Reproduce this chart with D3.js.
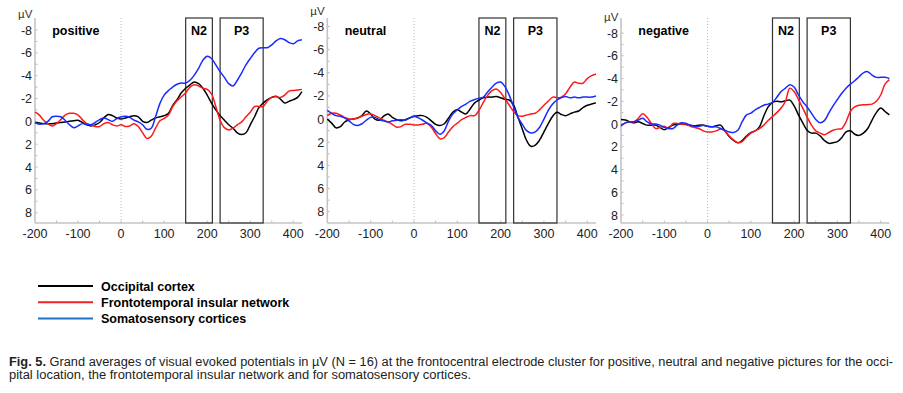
<!DOCTYPE html>
<html>
<head>
<meta charset="utf-8">
<script src="https://cdn.jsdelivr.net/npm/d3@7"></script>
<style>
  body { margin: 0; background: #fff; }
  svg { display: block; font-family: "Liberation Sans", Arial, sans-serif; }
</style>
</head>
<body>
<div id="chart"></div>
<script>
// time axis (ms) shared by all curves
var times = d3.range(-200, 421, 10);
var yTicks = [-8, -6, -4, -2, 0, 2, 4, 6, 8];
var xTicks = [-200, -100, 0, 100, 200, 300, 400];
var windows = [{ label: "N2", from: 150, to: 212 }, { label: "P3", from: 230, to: 330 }];
var seriesNames = ["Occipital cortex", "Frontotemporal insular network", "Somatosensory cortices"];

// positive pictures
var posOcc = [0.1, 0.15, 0.2, 0.2, 0.2, 0.15, 0.1, 0.05, 0.0, -0.05,
  -0.1, 0.1, 0.3, 0.4, 0.3, 0.1, -0.3, -0.6, -0.5, -0.3,
  -0.2, -0.3, -0.4, -0.5, -0.4, 0.0, 0.1, -0.1, -0.3, -0.4,
  -0.5, -0.7, -1.4, -1.9, -2.5, -2.9, -3.2, -3.45, -3.3, -2.9,
  -2.3, -1.6, -1.0, -0.5, -0.1, 0.3, 0.6, 1.0, 1.15, 1.0,
  0.3, -0.4, -1.2, -1.6, -1.9, -2.1, -2.2, -1.95, -1.6, -1.75,
  -1.9, -2.1, -2.6];
var posFti = [-0.8, -0.55, -0.1, 0.2, 0.4, 0.2, -0.15, -0.55, -0.7, -0.7,
  -0.55, -0.15, 0.2, 0.3, 0.45, 0.45, 0.2, 0.1, 0.3, 0.4,
  0.3, 0.45, 0.4, 0.2, 0.45, 1.0, 1.5, 1.3, 0.6, -0.05,
  -0.25, -0.55, -1.3, -1.8, -2.15, -2.5, -3.0, -3.2, -3.1, -2.9,
  -2.8, -2.4, -1.3, -0.1, 0.55, 0.75, 0.6, 0.3, 0.05, -0.4,
  -0.8, -1.3, -1.3, -1.3, -1.8, -2.1, -2.15, -2.1, -2.3, -2.65,
  -2.7, -2.75, -2.8];
var posSom = [0.1, 0.25, 0.2, 0.0, -0.4, -0.45, -0.4, -0.1, 0.3, 0.55,
  0.4, 0.2, 0.25, 0.3, 0.1, -0.15, -0.3, -0.15, 0.0, -0.25,
  -0.4, -0.45, -0.35, -0.1, 0.05, 0.3, 0.7, 0.6, -0.4, -1.55,
  -2.3, -2.7, -3.0, -3.25, -3.35, -3.35, -3.6, -4.05, -4.65, -5.35,
  -5.7, -5.5, -4.95, -4.35, -3.85, -3.3, -3.1, -3.6, -4.25, -4.95,
  -5.5, -6.0, -6.4, -6.45, -6.45, -6.7, -7.05, -7.25, -7.15, -6.9,
  -6.8, -7.05, -7.15];

// neutral pictures
var neuOcc = [0, 0.35, 0.75, 0.65, 0.25, 0.05, 0, -0.1, -0.3, -0.7,
  -0.45, 0, 0.1, -0.25, -0.45, -0.15, 0.05, 0.15, 0.05, -0.1,
  -0.25, -0.3, -0.3, -0.15, 0.15, 0.45, 0.55, 0.4, -0.1, -0.6,
  -0.8, -0.6, -0.45, -0.9, -1.4, -1.65, -1.85, -1.9, -1.9, -1.95,
  -1.85, -1.7, -1.65, -1.2, -0.15, 0.85, 1.85, 2.35, 2.25, 1.8,
  1.1, 0.4, -0.25, -0.6, -0.4, -0.3, -0.45, -0.6, -0.7, -1.0,
  -1.2, -1.3, -1.4];
var neuFti = [-0.3, -0.5, -0.5, -0.35, -0.15, 0, 0, -0.1, -0.25, -0.4,
  -0.45, -0.3, -0.1, 0.1, 0.25, 0.45, 0.7, 0.65, 0.45, 0.45,
  0.5, 0.5, 0.45, 0.35, 0.7, 1.25, 1.7, 1.6, 1.1, 0.65,
  0.35, 0.05, -0.15, -0.3, -0.3, -0.75, -1.45, -2.05, -2.45, -2.6,
  -2.3, -1.75, -1.2, -0.65, -0.3, -0.25, -0.35, -0.45, -0.5, -0.8,
  -1.2, -1.55, -1.9, -1.85, -1.9, -2.2, -2.75, -3.2, -3.1, -3.1,
  -3.5, -3.75, -3.9];
var neuSom = [-0.75, -0.5, -0.3, -0.25, -0.1, 0.15, 0.45, 0.55, 0.4, 0.1,
  -0.15, -0.15, 0.05, 0.15, 0.25, 0.15, 0.1, 0.05, 0.1, -0.1,
  -0.25, -0.1, 0.1, 0.35, 0.55, 1.0, 1.3, 1.0, 0.15, -0.45,
  -0.8, -1.1, -1.3, -1.55, -1.7, -1.8, -1.9, -2.35, -2.75, -3.1,
  -3.2, -2.8, -2.05, -1.05, -0.15, 0.45, 1.0, 1.2, 1.1, 0.7,
  0, -0.75, -1.3, -1.65, -1.85, -1.95, -1.85, -1.9, -1.85, -1.9,
  -1.9, -1.9, -2.0];

// negative pictures
var negOcc = [-0.4, -0.35, -0.2, -0.1, -0.2, -0.05, 0.1, 0.1, 0.1, 0.3,
  0.5, 0.3, 0.1, 0, 0, 0.05, 0.1, 0.15, 0.1, 0.1,
  0.2, 0.25, 0.15, 0.1, 0.6, 1.1, 1.45, 1.65, 1.45, 1.05,
  0.75, 0.6, 0.25, -0.7, -1.5, -1.9, -2.0, -1.95, -2.05, -2.1,
  -1.6, -0.8, -0.1, 0.55, 0.8, 0.8, 1.05, 1.45, 1.7, 1.65,
  1.55, 1.2, 0.7, 0.6, 0.9, 1.0, 0.8, 0.4, -0.35, -1.0,
  -1.4, -1.1, -0.8];
var negFti = [0.2, -0.1, -0.2, -0.2, -0.5, -0.9, -0.6, -0.05, 0.4, 0.3,
  0.2, 0.4, -0.05, -0.05, 0, 0, 0.2, 0.3, 0.4, 0.6,
  0.7, 0.7, 0.6, 0.45, 0.6, 1.05, 1.4, 1.65, 1.55, 1.15,
  0.8, 0.6, 0.4, 0.1, -0.3, -0.65, -1.0, -1.4, -2.0, -3.15,
  -2.85, -2.15, -1.4, -0.6, 0.1, 0.6, 0.8, 0.95, 0.75, 0.55,
  0.45, 0.4, -0.2, -1.1, -1.5, -1.65, -1.7, -1.7, -1.75, -2.0,
  -2.55, -3.5, -3.9];
var negSom = [0.1, -0.1, -0.2, -0.2, -0.35, -0.5, -0.2, 0, 0, 0.1,
  0.3, 0.4, 0.4, 0.1, -0.1, -0.05, 0.1, 0.2, 0.2, 0.1,
  0.2, 0.25, 0.25, 0.4, 0.55, 0.7, 0.75, 0.55, -0.2, -0.8,
  -0.95, -1.25, -1.45, -1.65, -1.75, -1.9, -2.35, -2.85, -3.15, -3.45,
  -3.25, -2.55, -1.95, -1.5, -0.95, -0.4, -0.1, -0.3, -0.95, -1.6,
  -2.15, -2.7, -3.15, -3.5, -3.8, -4.15, -4.5, -4.6, -4.3, -4.1,
  -4.1, -4.1, -4.0];

var lineColors = ["#000000", "#ff1a1a", "#1a2bff"];
var legendColors = ["#000000", "#ee2222", "#1f72c6"];

var width = 903, height = 393;
var frameTop = 18, frameBottom = 223;

// the three panels were pasted in by hand, so each has its own pixel frame
var panels = [
  { title: "positive", data: [posOcc, posFti, posSom], x0: 35, x400: 293.3, yTop: 30, yBot: 212.7 },
  { title: "neutral", data: [neuOcc, neuFti, neuSom], x0: 327.3, x400: 587.3, yTop: 26.5, yBot: 211.7 },
  { title: "negative", data: [negOcc, negFti, negSom], x0: 621, x400: 880.7, yTop: 33, yBot: 215 }
];

var svg = d3.select("#chart").append("svg")
  .attr("width", width)
  .attr("height", height)
  .attr("viewBox", "0 0 " + width + " " + height);

panels.forEach(function(p) {
  var x = d3.scaleLinear().domain([-200, 400]).range([p.x0, p.x400]);
  var y = d3.scaleLinear().domain([-8, 8]).range([p.yTop, p.yBot]);
  var xEnd = x(420);
  var g = svg.append("g");

  // zero line
  g.append("line")
    .attr("x1", x(0)).attr("x2", x(0))
    .attr("y1", frameTop).attr("y2", frameBottom)
    .attr("stroke", "#aaa")
    .attr("stroke-width", 0.8)
    .attr("stroke-dasharray", "1,2");

  // minor ticks on both axes
  g.selectAll(".ytick")
    .data(d3.range(-8, 9, 1)).enter().append("line")
    .attr("x1", p.x0).attr("x2", p.x0 + 2.5)
    .attr("y1", function(d) { return y(d); })
    .attr("y2", function(d) { return y(d); })
    .attr("stroke", "#bbb");
  g.selectAll(".xtick")
    .data(d3.range(-150, 420, 50)).enter().append("line")
    .attr("x1", function(d) { return x(d); })
    .attr("x2", function(d) { return x(d); })
    .attr("y1", frameBottom).attr("y2", frameBottom - 2.5)
    .attr("stroke", "#bbb");

  // axis lines
  g.append("line")
    .attr("x1", p.x0).attr("x2", p.x0)
    .attr("y1", frameTop).attr("y2", frameBottom)
    .attr("stroke", "#c4c4c4").attr("stroke-width", 1.6);
  g.append("line")
    .attr("x1", p.x0).attr("x2", xEnd)
    .attr("y1", frameBottom).attr("y2", frameBottom)
    .attr("stroke", "#c4c4c4").attr("stroke-width", 1.6);

  // tick labels
  g.selectAll(".ylab")
    .data(yTicks).enter().append("text")
    .attr("x", p.x0 - 3)
    .attr("y", function(d) { return y(d) + 4.5; })
    .attr("text-anchor", "end")
    .attr("font-size", 12.5)
    .attr("fill", "#222")
    .text(function(d) { return d; });
  g.selectAll(".xlab")
    .data(xTicks).enter().append("text")
    .attr("x", function(d) { return x(d); })
    .attr("y", 238)
    .attr("text-anchor", "middle")
    .attr("font-size", 12.5)
    .attr("fill", "#222")
    .text(function(d) { return d; });

  g.append("text")
    .attr("x", p.x0 - 17)
    .attr("y", p.yTop - 12)
    .attr("font-size", 11.5)
    .attr("fill", "#333")
    .text("\u00b5V");

  g.append("text")
    .attr("x", x(-160))
    .attr("y", 35)
    .attr("font-size", 12.5)
    .attr("font-weight", "bold")
    .text(p.title);

  // N2 / P3 windows
  windows.forEach(function(w) {
    g.append("rect")
      .attr("x", x(w.from))
      .attr("y", frameTop)
      .attr("width", x(w.to) - x(w.from))
      .attr("height", frameBottom - frameTop)
      .attr("fill", "none")
      .attr("stroke", "#333")
      .attr("stroke-width", 1.2);
    g.append("text")
      .attr("x", (x(w.from) + x(w.to)) / 2)
      .attr("y", 35)
      .attr("text-anchor", "middle")
      .attr("font-size", 12.5)
      .attr("font-weight", "bold")
      .text(w.label);
  });

  var line = d3.line()
    .x(function(d, i) { return x(times[i]); })
    .y(function(d) { return y(d); })
    .curve(d3.curveCatmullRom.alpha(0.5));

  p.data.forEach(function(vals, k) {
    g.append("path")
      .datum(vals)
      .attr("d", line)
      .attr("fill", "none")
      .attr("stroke", lineColors[k])
      .attr("stroke-width", 1.5);
  });
});

// legend
var legend = svg.append("g");
seriesNames.forEach(function(name, i) {
  var ly = 286 + i * 16.2;
  legend.append("line")
    .attr("x1", 38).attr("x2", 93)
    .attr("y1", ly).attr("y2", ly)
    .attr("stroke", legendColors[i])
    .attr("stroke-width", 2);
  legend.append("text")
    .attr("x", 101)
    .attr("y", ly + 4.5)
    .attr("font-size", 12.5)
    .attr("font-weight", "bold")
    .text(name);
});

// caption
var cap = svg.append("g").attr("font-size", 12).attr("fill", "#222");
var c1 = cap.append("text")
  .attr("x", 9).attr("y", 366)
  .attr("textLength", 884)
  .attr("lengthAdjust", "spacingAndGlyphs");
c1.append("tspan").attr("font-weight", "bold").text("Fig. 5.");
c1.append("tspan").text(" Grand averages of visual evoked potentials in \u00b5V (N = 16) at the frontocentral electrode cluster for positive, neutral and negative pictures for the occi-");
cap.append("text")
  .attr("x", 9).attr("y", 379)
  .attr("textLength", 462)
  .attr("lengthAdjust", "spacingAndGlyphs")
  .text("pital location, the frontotemporal insular network and for somatosensory cortices.");
</script>
</body>
</html>
